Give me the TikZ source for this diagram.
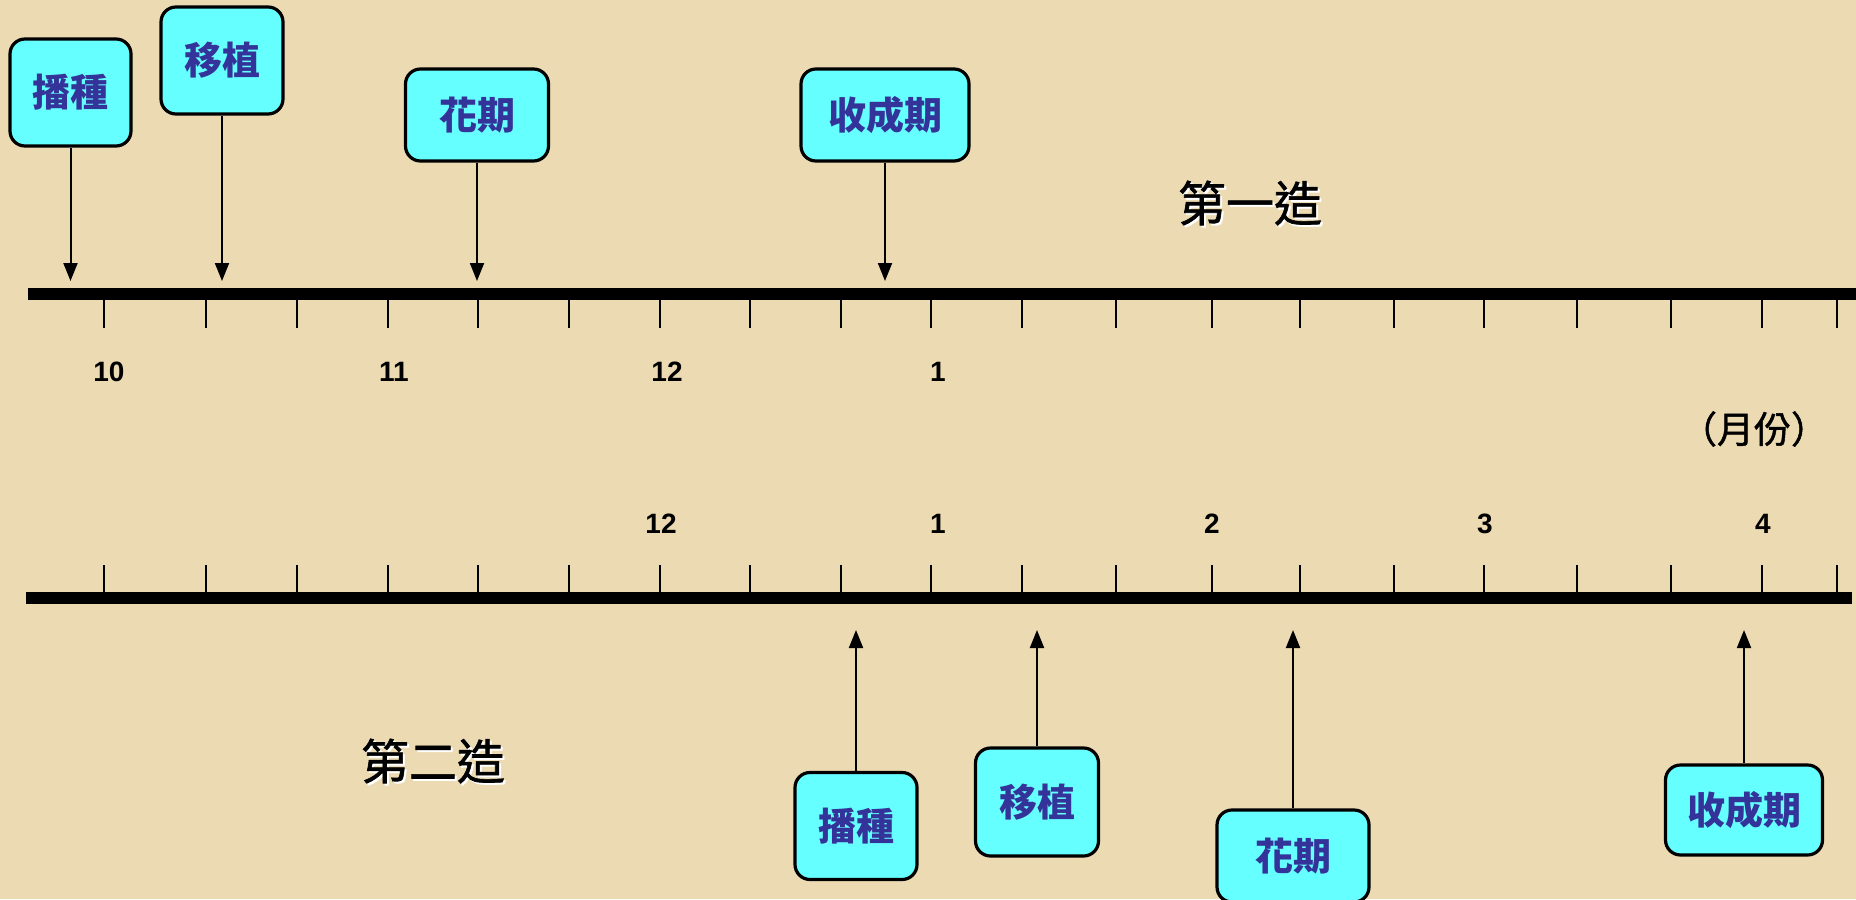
\documentclass[tikz,border=0pt]{standalone}
\usepackage{fontspec}
\setmainfont{Liberation Sans}
\newfontfamily\cjk{Noto Sans CJK TC}
\newfontfamily\cjkmid[FakeBold=1.3]{Noto Sans CJK TC}
\usetikzlibrary{arrows.meta}
\definecolor{paper}{RGB}{236,219,178}
\definecolor{boxfill}{RGB}{102,255,255}
\definecolor{boxtext}{RGB}{51,51,153}
\begin{document}
\begin{tikzpicture}[x=0.5pt,y=-0.5pt,
  stage/.style={draw=black,line width=1.6pt,fill=boxfill,rounded corners=7.5pt,
    text=boxtext,font=\cjk\bfseries\fontsize{19}{20}\selectfont,inner sep=0pt},
  arr/.style={line width=1pt,-{Triangle[length=9pt,width=7pt]}},
  bar/.style={line width=5.75pt},
  tickmark/.style={line width=1.25pt},
  month/.style={font=\bfseries\fontsize{14}{16}\selectfont,inner sep=0pt},
  season/.style={font=\cjkmid\fontsize{24}{28}\selectfont,inner sep=0pt},
  unitlabel/.style={font=\cjkmid\fontsize{18.5}{20}\selectfont,inner sep=0pt}]
\clip (0,0) rectangle (1856,899);
\fill[paper] (0,0) rectangle (1856,899);

% axes
\draw[bar] (28,294) -- (1856,294);
\draw[bar] (26,598) -- (1852,598);
\foreach \x in {104,206,297,388,478,569,660,750,841,931,1022,1116,1212,1300,1394,1484,1577,1671,1762,1837}{
  \draw[tickmark] (\x,294) -- (\x,328);
  \draw[tickmark] (\x,565) -- (\x,598);
}

% month labels
\node[month] (m10) at (109,372) {10};
\node[month] (m11) at (394,372) {11};
\node[month] (m12) at (667,372) {12};
\node[month] (m1)  at (938,372) {1};
\node[month] (n12) at (661,524) {12};
\node[month] (n1)  at (938,524) {1};
\node[month] (n2)  at (1212,524) {2};
\node[month] (n3)  at (1485,524) {3};
\node[month] (n4)  at (1763,524) {4};
\node[unitlabel] (unit) at (1754,429) {（月份）};

% season titles (with white shadow)
\node[season,text=white] (s1sh) at (1252,205) {第一造};
\node[season] (s1) at (1250,203) {第一造};
\node[season,text=white] (s2sh) at (435,763) {第二造};
\node[season] (s2) at (433,761) {第二造};

% first season boxes
\node[stage,minimum width=60.5pt,minimum height=53.5pt] (b1) at (70.5,92.5) {播種};
\node[stage,minimum width=61pt,minimum height=53.5pt] (b2) at (222,60.5) {移植};
\node[stage,minimum width=71.5pt,minimum height=46pt] (b3) at (477,115) {花期};
\node[stage,minimum width=84pt,minimum height=46pt] (b4) at (885,115) {收成期};
\coordinate (p1) at (70.5,281);
\coordinate (p2) at (222,281);
\coordinate (p3) at (477,281);
\coordinate (p4) at (885,281);
\draw[arr] (b1) -- (p1);
\draw[arr] (b2) -- (p2);
\draw[arr] (b3) -- (p3);
\draw[arr] (b4) -- (p4);

% second season boxes
\node[stage,minimum width=61pt,minimum height=53.5pt] (c1) at (856,826) {播種};
\node[stage,minimum width=61.5pt,minimum height=54pt] (c2) at (1037,802) {移植};
\node[stage,minimum width=76pt,minimum height=46pt] (c3) at (1293,856) {花期};
\node[stage,minimum width=78.5pt,minimum height=45pt] (c4) at (1744,810) {收成期};
\coordinate (q1) at (856,630);
\coordinate (q2) at (1037,630);
\coordinate (q3) at (1293,630);
\coordinate (q4) at (1744,630);
\draw[arr] (c1) -- (q1);
\draw[arr] (c2) -- (q2);
\draw[arr] (c3) -- (q3);
\draw[arr] (c4) -- (q4);
\end{tikzpicture}
\end{document}
